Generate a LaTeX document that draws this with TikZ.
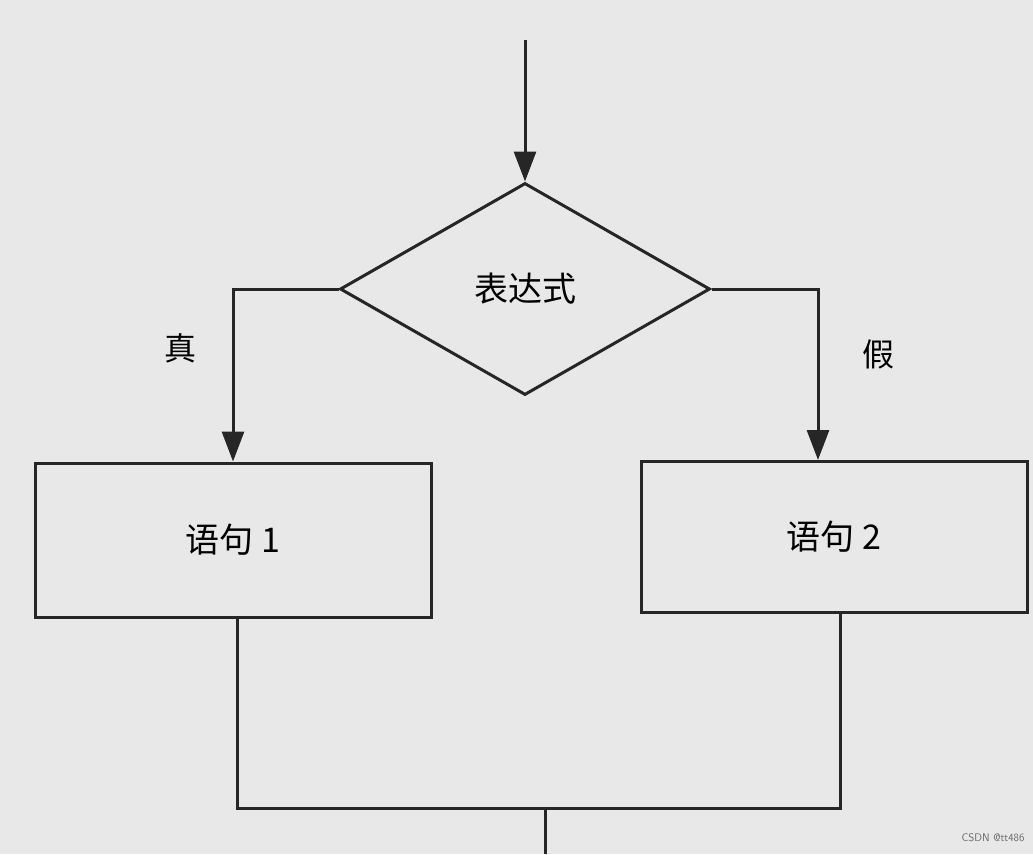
\documentclass[tikz,border=0pt]{standalone}
\usepackage{fontspec}
\setmainfont{Liberation Serif}
\newfontfamily\cjk{Noto Sans CJK SC}
\usetikzlibrary{shapes.geometric,arrows.meta}
\begin{document}
\begin{tikzpicture}[x=1pt,y=-1pt,
  ln/.style={line width=3pt,black!85},
  ar/.style={ln,-{Triangle[length=30pt,width=22pt]}},
  box/.style={draw=black!85,line width=3pt,rectangle,minimum width=396pt,minimum height=154pt,font=\cjk\fontsize{34}{40}\selectfont},
  lab/.style={font=\cjk\fontsize{32}{38}\selectfont}]
\fill[black!9] (0,0) rectangle (1033,854);
\useasboundingbox (0,0) rectangle (1033,854);
\node[draw=black!85,line width=3pt,diamond,aspect=1.75,minimum width=370pt,minimum height=212pt,inner sep=0pt,font=\cjk\fontsize{34}{40}\selectfont] (d) at (525,289) {表达式};
\node[box] (b1) at (233,540) {语句 1};
\node[box,minimum width=386pt,minimum height=151pt] (b2) at (834,537) {语句 2};
\coordinate (top) at (525,40);
\coordinate (lt) at (233,289);
\coordinate (rt) at (818,289);
\coordinate (bl) at (237,808);
\coordinate (br) at (840,808);
\coordinate (bm) at (545,808);
\coordinate (end) at (545,854);
\draw[ar] (top) -- (d.north);
\draw[ar] (d.west) -- (lt) -- (lt |- b1.north);
\draw[ar] (d.east) -- (rt) -- (rt |- b2.north);
\draw[ln] (b1.south -| bl) -- (bl) -- (br) -- (b2.south -| br);
\draw[ln] (bm) -- (end);
\node[lab] (t) at (180,348) {真};
\node[lab] (f) at (878,354) {假};
\node[font=\sffamily\fontsize{11}{13}\selectfont,text=black!60,anchor=east] (w) at (1028,838) {CSDN @tt486};
\end{tikzpicture}
\end{document}
